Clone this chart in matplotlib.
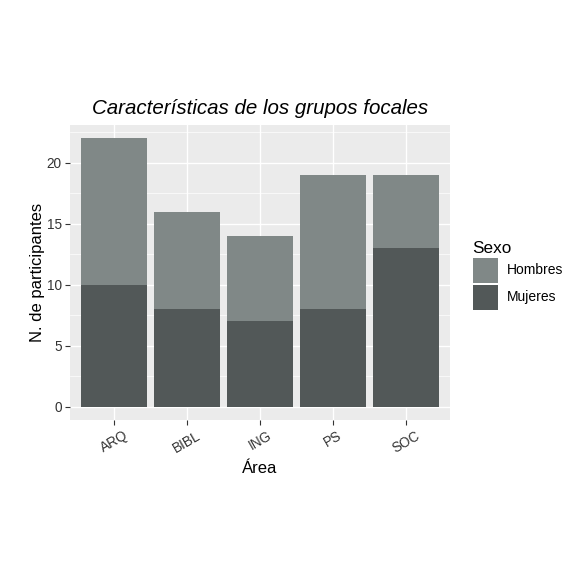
import matplotlib
matplotlib.use("Agg")
import matplotlib.pyplot as plt
from matplotlib.patches import Patch
from matplotlib.ticker import MultipleLocator

plt.rcParams['font.family'] = ['Liberation Sans', 'DejaVu Sans']

areas = ["ARQ", "BIBL", "ING", "PS", "SOC"]
mujeres = [10, 8, 7, 8, 13]
hombres = [12, 8, 7, 11, 6]
col_h = "#808887"
col_m = "#525858"

fig = plt.figure(figsize=(5.86, 5.86), dpi=100)
ax = fig.add_axes([70/586, 1-420/586, 380/586, 295/586])
ax.set_facecolor("#EBEBEB")
x = list(range(1, len(areas)+1))
ax.bar(x, mujeres, width=0.9, color=col_m, zorder=3)
ax.bar(x, hombres, width=0.9, bottom=mujeres, color=col_h, zorder=3)

totals = [m+h for m, h in zip(mujeres, hombres)]
ymax = max(totals)
ax.set_ylim(-0.05*ymax, ymax*1.05)
ax.set_xlim(0.4, len(areas)+0.6)
ax.yaxis.set_major_locator(MultipleLocator(5))
ax.yaxis.set_minor_locator(MultipleLocator(2.5))
ax.set_xticks(x)
ax.set_xticklabels(areas, rotation=30, fontsize=9.8, color="#333333")
ax.tick_params(axis='y', labelsize=9.8, labelcolor="#333333")
ax.tick_params(axis='both', which='major', length=3.5, color="#333333", pad=2.5)
ax.tick_params(axis='y', which='minor', length=0)
ax.grid(which='major', color='white', linewidth=1.0, zorder=0)
ax.grid(which='minor', axis='y', color='white', linewidth=0.5, zorder=0)
ax.set_axisbelow(True)
for s in ax.spines.values():
    s.set_visible(False)

ax.set_xlabel("Área", fontsize=12, color="black", labelpad=4)
ax.set_ylabel("N. de participantes", fontsize=12, color="black", labelpad=1)
ax.set_title("Características de los grupos focales", fontsize=14.8, style='italic', pad=8)

handles = [Patch(facecolor=col_h, edgecolor='none', label="Hombres"),
           Patch(facecolor=col_m, edgecolor='none', label="Mujeres")]
leg = fig.legend(handles=handles, title="Sexo", loc='upper left',
                 bbox_to_anchor=(467/586, 1-235/586), frameon=False,
                 fontsize=10, title_fontsize=12.3, handlelength=1.85, handleheight=2.39,
                 handletextpad=0.6, labelspacing=0.15, borderaxespad=0)
leg._legend_box.align = "left"

fig.savefig("out.png", dpi=100, facecolor="white")
